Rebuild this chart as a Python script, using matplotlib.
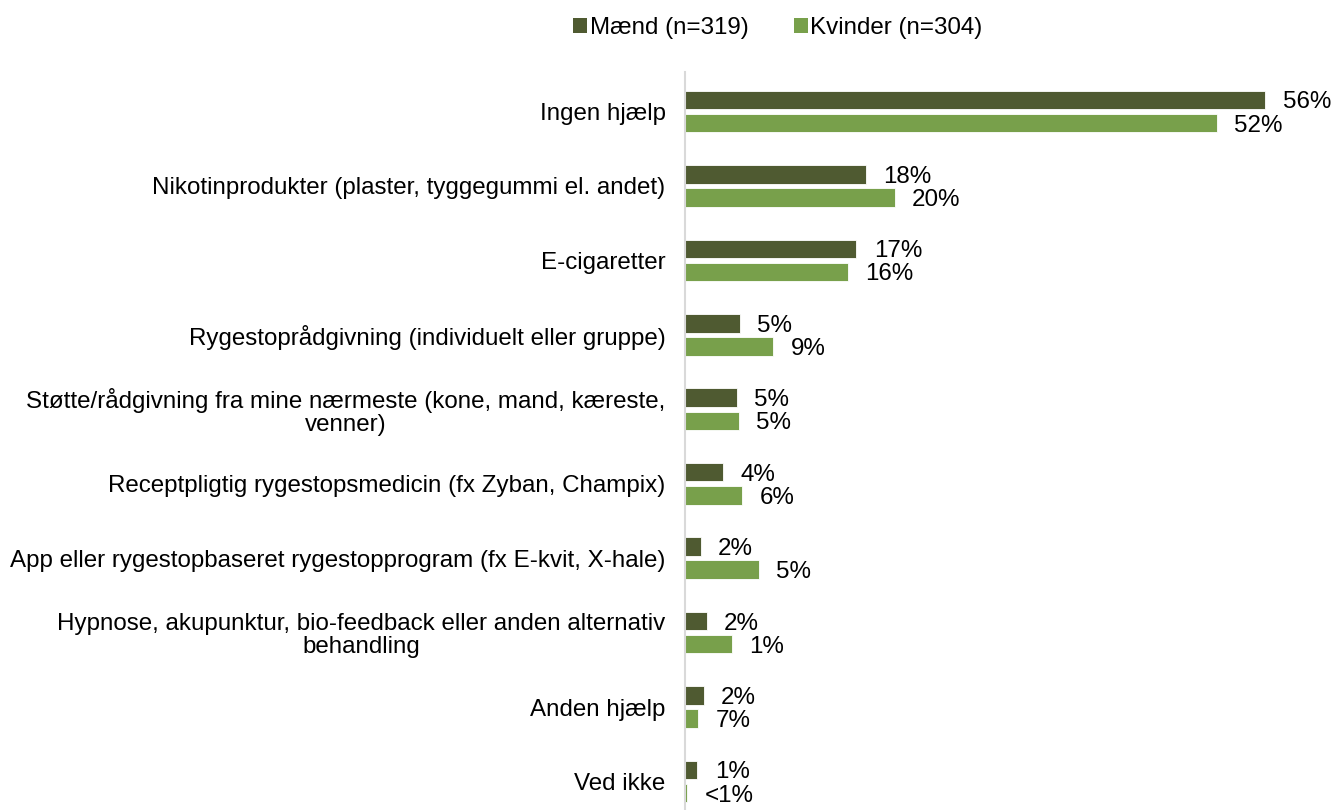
import numpy as np
from matplotlib import pyplot as plt
from matplotlib.patches import Patch

# svarkategorier (top til bund)
categories = [
    "Ingen hjælp",
    "Nikotinprodukter (plaster, tyggegummi el. andet)",
    "E-cigaretter",
    "Rygestoprådgivning (individuelt eller gruppe)",
    "Støtte/rådgivning fra mine nærmeste (kone, mand, kæreste,\nvenner)",
    "Receptpligtig rygestopsmedicin (fx Zyban, Champix)",
    "App eller rygestopbaseret rygestopprogram (fx E-kvit, X-hale)",
    "Hypnose, akupunktur, bio-feedback eller anden alternativ\nbehandling",
    "Anden hjælp",
    "Ved ikke",
]

# bar-længder (%)
maend = [55.9, 17.4, 16.5, 5.3, 5.0, 3.7, 1.5, 2.1, 1.8, 1.2]
kvinder = [51.2, 20.2, 15.7, 8.5, 5.2, 5.5, 7.1, 4.5, 1.3, 0.2]

# dataetiketter som de står i figuren
maend_lbl = ["56%", "18%", "17%", "5%", "5%", "4%", "2%", "2%", "2%", "1%"]
kvinder_lbl = ["52%", "20%", "16%", "9%", "5%", "6%", "5%", "1%", "7%", "<1%"]

legend_labels = ["Mænd (n=319)", "Kvinder (n=304)"]
c_maend = "#4F5A31"
c_kvinder = "#78A04B"

plt.rcParams['font.family'] = ['Liberation Sans', 'DejaVu Sans']
fs = 17.4

fig = plt.figure(figsize=(13.35, 8.1), dpi=100)
ax = fig.add_axes([685 / 1335, 0, 1 - 685 / 1335, 1 - 72 / 810])

y = np.arange(len(categories))
h = 0.25
off = 0.155
ax.barh(y - off, maend, height=h, color=c_maend, edgecolor="white", linewidth=0.6)
ax.barh(y + off, kvinder, height=h, color=c_kvinder, edgecolor="white", linewidth=0.6)

for i in range(len(categories)):
    ax.annotate(maend_lbl[i], (maend[i], y[i] - off), xytext=(12.5, -1.8),
                textcoords="offset points", va="center", ha="left", fontsize=fs)
    ax.annotate(kvinder_lbl[i], (kvinder[i], y[i] + off), xytext=(12.5, -1.8),
                textcoords="offset points", va="center", ha="left", fontsize=fs)

ax.set_xlim(0, 62.6)
ax.set_ylim(9.383, -0.531)
ax.set_yticks(y)
ax.set_yticklabels(categories, fontsize=fs, multialignment="center", linespacing=1.05)
ax.tick_params(axis="y", length=0, pad=14)
ax.xaxis.set_visible(False)
for s in ["top", "right", "bottom"]:
    ax.spines[s].set_visible(False)
ax.spines["left"].set_color("#D9D9D9")
ax.spines["left"].set_linewidth(1.5)

handles = [Patch(facecolor=c_maend), Patch(facecolor=c_kvinder)]
fig.legend(handles, legend_labels, loc="center", bbox_to_anchor=(778 / 1335, 1 - 28 / 810),
           ncol=2, frameon=False, fontsize=fs, handlelength=0.55, handleheight=0.55,
           handletextpad=0.12, columnspacing=1.9)

fig.savefig("out.png", dpi=100)
